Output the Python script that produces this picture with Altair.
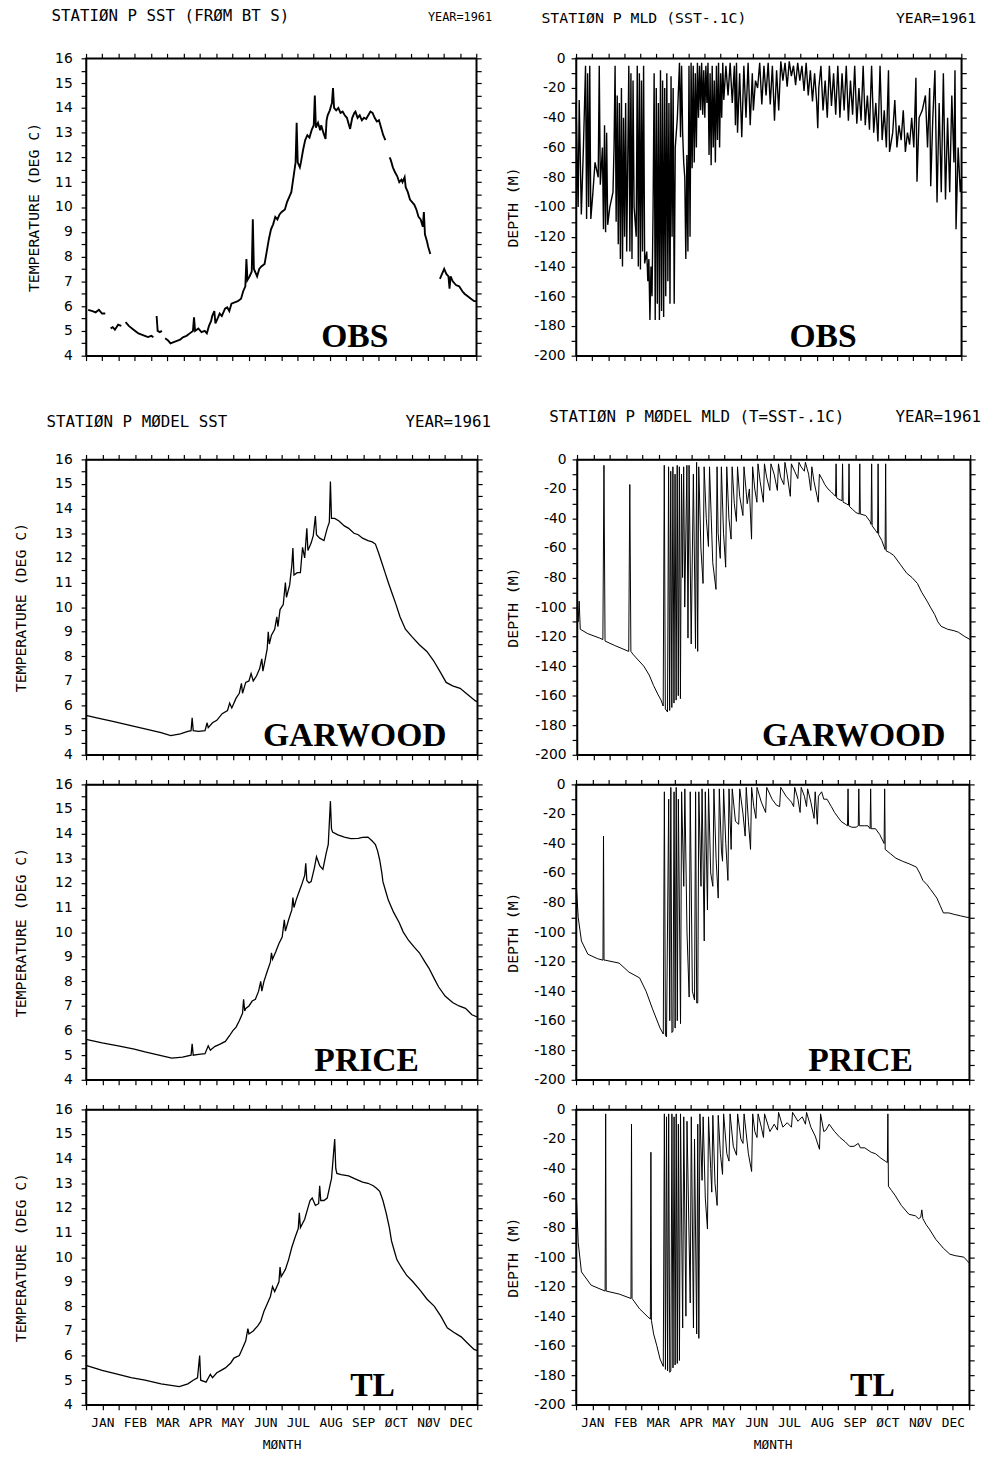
import altair as alt
import pandas as pd

# ---------------- text ----------------
MONTHS = ["JAN", "FEB", "MAR", "APR", "MAY", "JUN", "JUL", "AUG", "SEP", "ØCT", "NØV", "DEC"]
YEAR_TEXT = "YEAR=1961"
T_OBS_SST = "STATIØN P SST (FRØM BT S)"
T_OBS_MLD = "STATIØN P MLD (SST-.1C)"
T_MOD_SST = "STATIØN P MØDEL SST"
T_MOD_MLD = "STATIØN P MØDEL MLD (T=SST-.1C)"

# ---------------- data (day of year, value) ----------------
OBS_SST_DAY = [2, 6, 9, 12, 15, 18,
               23, 25, 27, 30, 33,
               37, 40, 43, 46, 49, 52, 55, 58, 61, 63,
               66, 67, 69, 71,
               74, 77, 79, 82, 85, 88, 91, 94, 97, 100, 101, 102, 105, 108, 111, 113, 115, 117, 118, 120,
               121, 123, 125, 127, 130, 132, 134, 136, 139, 142, 145, 147, 149, 150, 151, 153, 155, 156,
               157, 160, 162, 164, 167, 169, 171, 173, 175, 177, 179, 181, 183, 186, 188, 190, 192, 194,
               196, 197, 198, 200, 201, 203, 205, 207, 209, 211, 213, 214, 215, 217, 219, 220, 222, 224,
               225, 226, 228, 230, 231, 232, 234, 236, 238, 240, 242, 244, 246, 247, 249, 251, 252, 254,
               256, 258, 260, 262, 264, 266, 268, 270, 272, 274, 276, 278, 280,
               284, 285, 287, 289, 291, 293, 295, 296, 298, 299, 301, 303, 305, 307, 309, 311, 313, 315,
               316, 317, 319, 320, 322,
               331, 333, 335, 337, 339, 340, 341, 343, 346, 349, 352, 354, 357, 360, 363, 365]
OBS_SST_TEMP = [5.85, 5.8, 5.75, 5.85, 5.7, 5.7,
                5.1, 5.15, 5.05, 5.25, 5.2,
                5.35, 5.2, 5.1, 5.0, 4.9, 4.85, 4.8, 4.75, 4.8, 4.75,
                5.6, 5.0, 4.95, 5.0,
                4.7, 4.6, 4.5, 4.55, 4.6, 4.65, 4.75, 4.8, 4.9, 5.0, 5.55, 5.0, 5.1, 4.95, 5.0, 4.9, 5.2,
                5.4, 5.6, 5.8,
                5.3, 5.5, 5.7, 5.6, 5.9, 5.95, 5.8, 6.1, 6.15, 6.2, 6.3, 6.6, 6.8, 7.9, 7.05, 7.2, 7.4, 9.5,
                7.5, 7.2, 7.5, 7.6, 7.7, 8.2, 8.7, 9.1, 9.3, 9.6, 9.5, 9.7, 9.8, 9.9, 10.2, 10.4, 10.6, 11.2,
                11.8, 13.4, 11.8, 11.6, 11.8, 12.3, 12.7, 12.9, 12.8, 13.1, 13.3, 14.5, 13.2, 13.4, 13.1,
                13.3, 13.0, 12.75,
                13.5, 13.7, 13.9, 14.2, 14.8, 14.0, 13.9, 14.0, 13.8, 13.85, 13.7, 13.6, 13.3, 13.15, 13.6,
                13.8, 13.85, 13.6,
                13.7, 13.5, 13.6, 13.55, 13.7, 13.85, 13.8, 13.6, 13.45, 13.5, 13.2, 12.9, 12.7,
                12.0, 11.9, 11.6, 11.4, 11.25, 11.0, 11.1, 11.0, 11.2, 10.8, 10.6, 10.3, 10.2, 10.1, 9.9,
                9.6, 9.5, 9.2,
                9.8, 8.9, 8.6, 8.4, 8.1,
                7.1, 7.3, 7.5, 7.3, 7.2, 6.7, 7.2, 7.0, 6.85, 6.8, 6.6, 6.5, 6.4, 6.3, 6.2, 6.2]
# days at which the observed SST record has gaps
OBS_SST_GAPS = [20, 35, 65, 72, 282, 326]

OBS_MLD = [(0, -30), (2, -100), (3, -28), (5, -105), (7, -60), (9, -5), (10, -108), (11, -10), (12, -100),
           (13, -5), (14, -108), (16, -90), (18, -70), (21, -80), (22, -5), (23, -85), (25, -60), (26, -115),
           (27, -45), (28, -117), (29, -50), (30, -112), (32, -100), (35, -90), (36, -60), (37, -5), (38, -110),
           (39, -25), (40, -125), (41, -30), (42, -135), (43, -20), (44, -140), (45, -40), (46, -120), (47, -30),
           (48, -130), (50, -5), (51, -130), (52, -10), (53, -135), (54, -15), (55, -100), (57, -120), (58, -5),
           (59, -140), (60, -10), (61, -142), (62, -15), (63, -130), (64, -5), (65, -138), (67, -130), (68, -150),
           (69, -135), (70, -176), (71, -140), (72, -160), (73, -100), (74, -10), (75, -176), (76, -20),
           (77, -165), (78, -30), (79, -176), (80, -8), (81, -170), (82, -15), (83, -174), (84, -20), (85, -160),
           (86, -10), (87, -150), (88, -30), (89, -165), (90, -12), (91, -120), (92, -20), (93, -165), (94, -60),
           (96, -40), (98, -3), (99, -53), (100, -5), (101, -50), (102, -70), (103, -80), (104, -135), (105, -65),
           (106, -130), (107, -5), (108, -120), (109, -3), (110, -74), (111, -5), (112, -70), (113, -10),
           (114, -60), (115, -3), (116, -40), (117, -5), (118, -35), (119, -3), (120, -38), (121, -8), (122, -40),
           (123, -5), (124, -30), (125, -3), (126, -65), (127, -10), (128, -72), (129, -5), (130, -60),
           (131, -15), (132, -70), (133, -5), (134, -55), (135, -3), (136, -60), (137, -10), (138, -40),
           (139, -3), (140, -28), (142, -5), (144, -25), (146, -3), (148, -30), (150, -5), (151, -45), (152, -3),
           (153, -50), (155, -10), (157, -53), (159, -5), (161, -40), (163, -3), (165, -45), (167, -10),
           (168, -35), (170, -15), (172, -20), (174, -3), (176, -31), (178, -5), (180, -25), (182, -3),
           (184, -31), (186, -5), (188, -42), (190, -8), (192, -35), (194, -2), (196, -15), (198, -3), (200, -19),
           (202, -2), (204, -12), (206, -5), (208, -18), (210, -3), (212, -15), (214, -5), (216, -22), (218, -3),
           (220, -25), (222, -8), (224, -29), (226, -10), (228, -30), (229, -47), (230, -20), (232, -5),
           (234, -35), (236, -15), (238, -40), (240, -5), (242, -32), (244, -10), (246, -38), (248, -5),
           (250, -40), (252, -10), (254, -35), (256, -5), (258, -42), (260, -15), (262, -38), (264, -5),
           (266, -44), (268, -20), (270, -42), (272, -5), (274, -45), (276, -25), (278, -48), (280, -5),
           (282, -50), (284, -30), (286, -56), (288, -5), (290, -55), (292, -35), (294, -60), (296, -8),
           (297, -63), (300, -50), (302, -28), (304, -60), (306, -45), (308, -55), (310, -35), (312, -63),
           (314, -50), (316, -58), (318, -40), (320, -60), (322, -13), (323, -83), (325, -40), (328, -35),
           (331, -25), (333, -60), (335, -20), (336, -86), (338, -40), (340, -8), (342, -97), (344, -30),
           (346, -90), (348, -10), (350, -95), (352, -40), (354, -90), (356, -25), (358, -70), (359, -8),
           (360, -115), (362, -60), (364, -90), (365, -81)]

GAR_SST = [(0, 5.6), (10, 5.5), (25, 5.36), (40, 5.2), (57, 5.03), (70, 4.9), (79, 4.78), (88, 4.85), (95, 4.95),
           (98, 4.98), (99, 5.5), (100, 4.98), (105, 4.95), (111, 4.98), (113, 5.3), (114, 5.1), (118, 5.3),
           (122, 5.4), (127, 5.67), (132, 5.8), (134, 6.1), (136, 5.9), (140, 6.3), (143, 6.5), (145, 6.9),
           (146, 6.5), (149, 6.94), (152, 7.0), (154, 7.3), (156, 7.0), (159, 7.2), (162, 7.5), (164, 7.9),
           (165, 7.4), (167, 7.84), (169, 8.3), (170, 9.0), (171, 8.5), (173, 8.86), (176, 9.1), (178, 9.6),
           (179, 9.2), (181, 9.9), (184, 10.1), (186, 11.0), (187, 10.4), (190, 10.9), (192, 11.7), (193, 12.4),
           (194, 11.3), (197, 11.4), (200, 11.4), (202, 12.43), (204, 12.0), (206, 13.2), (207, 12.3),
           (210, 12.6), (212, 12.9), (214, 13.7), (215, 12.94), (218, 12.8), (222, 12.7), (225, 13.2),
           (227, 13.45), (228, 15.1), (229, 13.6), (232, 13.6), (236, 13.5), (241, 13.3), (245, 13.2),
           (250, 13.0), (254, 12.94), (258, 12.8), (263, 12.7), (267, 12.65), (270, 12.56), (273, 12.2),
           (276, 11.8), (279, 11.4), (282, 11.0), (286, 10.5), (289, 10.13), (293, 9.6), (298, 9.1), (304, 8.8),
           (311, 8.47), (318, 8.2), (324, 7.84), (330, 7.4), (336, 6.94), (342, 6.8), (349, 6.7), (356, 6.45),
           (363, 6.2), (365, 6.15)]

PRI_SST = [(0, 5.64), (15, 5.5), (30, 5.38), (45, 5.25), (55, 5.13), (68, 5.0), (80, 4.88), (90, 4.92), (98, 5.0),
           (99, 5.46), (100, 5.0), (105, 5.03), (111, 5.06), (114, 5.38), (116, 5.2), (120, 5.35), (125, 5.45),
           (130, 5.56), (134, 5.8), (137, 6.0), (140, 6.14), (143, 6.4), (146, 6.7), (147, 7.27), (148, 6.8),
           (149, 6.9), (152, 7.0), (155, 7.2), (158, 7.27), (161, 7.6), (163, 8.0), (164, 7.6), (166, 8.0),
           (169, 8.4), (172, 8.78), (173, 9.16), (174, 8.9), (177, 9.2), (180, 9.54), (183, 9.8), (185, 10.5),
           (186, 10.04), (189, 10.5), (192, 10.9), (193, 11.4), (194, 11.0), (196, 11.3), (198, 11.55),
           (201, 11.9), (204, 12.3), (205, 12.8), (206, 12.1), (208, 12.0), (210, 12.05), (213, 12.6),
           (215, 13.06), (218, 12.7), (221, 12.55), (224, 13.2), (226, 13.56), (228, 15.32), (229, 14.2),
           (230, 14.06), (235, 13.95), (241, 13.86), (247, 13.8), (254, 13.81), (258, 13.85), (263, 13.86),
           (267, 13.7), (270, 13.56), (272, 13.3), (274, 12.93), (276, 12.4), (277, 12.05), (280, 11.6),
           (282, 11.3), (287, 10.8), (292, 10.4), (296, 10.0), (301, 9.66), (306, 9.4), (311, 9.16), (316, 8.8),
           (320, 8.53), (325, 8.1), (329, 7.77), (335, 7.4), (342, 7.14), (348, 7.0), (354, 6.9), (360, 6.64),
           (365, 6.55)]

TL_SST = [(0, 5.6), (15, 5.4), (30, 5.24), (42, 5.1), (55, 5.0), (70, 4.85), (87, 4.74), (95, 4.85), (100, 5.0),
          (104, 5.1), (106, 6.0), (107, 5.0), (112, 4.92), (116, 5.24), (118, 5.1), (122, 5.3), (126, 5.4),
          (130, 5.5), (135, 5.7), (138, 5.9), (143, 6.0), (146, 6.3), (149, 6.6), (151, 7.1), (152, 6.88),
          (156, 7.0), (160, 7.2), (163, 7.39), (166, 7.8), (169, 8.1), (172, 8.4), (174, 8.8), (176, 8.6),
          (178, 8.8), (180, 9.0), (181, 9.6), (182, 9.2), (186, 9.5), (189, 9.9), (192, 10.4), (195, 10.8),
          (198, 11.16), (199, 11.8), (200, 11.2), (204, 11.54), (207, 12.0), (209, 12.3), (211, 12.4),
          (214, 12.1), (217, 12.17), (218, 12.9), (219, 12.3), (222, 12.3), (225, 12.4), (228, 13.0),
          (229, 13.18), (232, 14.8), (233, 13.6), (234, 13.4), (238, 13.35), (245, 13.3), (250, 13.2),
          (258, 13.05), (263, 13.0), (268, 12.9), (271, 12.8), (274, 12.67), (277, 12.3), (280, 11.8),
          (283, 11.2), (285, 10.66), (288, 10.2), (290, 9.9), (294, 9.6), (299, 9.27), (305, 9.0), (312, 8.64),
          (318, 8.3), (325, 8.0), (331, 7.6), (337, 7.13), (343, 6.95), (350, 6.76), (356, 6.5), (362, 6.25),
          (365, 6.2)]

GAR_MLD = [(0, -100), (1, -110), (2, -96), (3, -115), (10, -118), (21, -121), (24, -122), (25, -4), (26, -123),
           (35, -126), (48, -130), (49, -17), (50, -130), (52, -132), (62, -140), (67, -146), (71, -153),
           (75, -159), (78, -163), (80, -167), (81, -4), (82, -169), (84, -171), (85, -5), (86, -170), (87, -8),
           (88, -168), (89, -5), (90, -165), (91, -10), (92, -163), (93, -4), (94, -160), (95, -5), (96, -162),
           (97, -10), (98, -80), (99, -5), (100, -100), (102, -4), (103, -121), (104, -4), (106, -125),
           (108, -10), (110, -128), (111, -2), (112, -130), (113, -5), (115, -60), (117, -84), (118, -5),
           (120, -40), (122, -59), (123, -5), (126, -70), (129, -88), (130, -5), (131, -50), (133, -67),
           (134, -5), (136, -50), (138, -73), (139, -5), (141, -40), (143, -54), (144, -5), (146, -30),
           (148, -42), (149, -5), (151, -25), (154, -38), (155, -5), (158, -30), (160, -20), (162, -54),
           (163, -5), (165, -20), (167, -29), (168, -3), (170, -15), (173, -29), (174, -3), (176, -12),
           (179, -21), (180, -3), (183, -10), (186, -21), (187, -3), (189, -12), (192, -17), (193, -2),
           (195, -10), (198, -25), (199, -3), (202, -8), (205, -13), (206, -2), (208, -5), (211, -8), (212, -2),
           (215, -10), (217, -21), (218, -5), (220, -15), (224, -29), (225, -10), (228, -14), (230, -17),
           (233, -20), (236, -22), (240, -25), (240.5, -3), (241, -26), (243, -27), (246, -28), (246.5, -3),
           (247, -29), (250, -30), (252, -31), (252.5, -3), (253, -32), (256, -34), (259, -36), (262, -37),
           (262.5, -3), (263, -37), (268, -38), (272, -42), (273, -44), (273.5, -3), (274, -45), (277, -48),
           (279, -50), (279.5, -3), (280, -51), (283, -55), (286, -61), (286.5, -3), (287, -62), (290, -63),
           (294, -65), (300, -71), (306, -77), (311, -80), (316, -84), (320, -90), (325, -96), (328, -100),
           (332, -105), (335, -110), (338, -113), (344, -115), (350, -116), (354, -117), (360, -120),
           (365, -122)]

PRI_MLD = [(0, -65), (2, -90), (5, -106), (11, -115), (20, -118), (25, -119), (25.5, -35), (26, -119), (27, -119),
           (40, -121), (49, -127), (59, -131), (65, -140), (71, -152), (78, -165), (81, -169), (82, -5),
           (83, -170), (84, -171), (86, -10), (87, -160), (88, -2), (89, -168), (90, -167), (91, -5), (92, -165),
           (93, -2), (94, -160), (95, -10), (97, -162), (98, -5), (100, -69), (101, -3), (103, -100), (105, -144),
           (106, -5), (108, -140), (110, -146), (111, -5), (112, -148), (113, -148), (114, -5), (116, -69),
           (117, -3), (119, -106), (120, -5), (122, -85), (123, -3), (125, -60), (127, -69), (128, -3),
           (130, -50), (132, -77), (133, -3), (135, -45), (136, -52), (137, -3), (139, -40), (141, -65),
           (142, -3), (144, -44), (145, -3), (148, -25), (151, -27), (152, -3), (155, -20), (157, -35),
           (158, -2), (160, -25), (162, -44), (163, -2), (165, -15), (167, -23), (168, -2), (172, -12),
           (176, -19), (177, -2), (182, -10), (186, -14), (189, -15), (190, -2), (195, -8), (200, -12),
           (202, -15), (203, -2), (206, -10), (208, -19), (209, -2), (212, -8), (214, -15), (215, -3), (218, -12),
           (221, -23), (222, -5), (224, -27), (225, -8), (228, -5), (230, -10), (233, -10), (237, -15),
           (240, -19), (243, -22), (246, -25), (250, -27), (252, -28), (252.5, -3), (253, -28), (256, -29),
           (260, -29), (262, -28), (262.5, -3), (263, -28), (268, -28), (271, -28), (273, -30), (273.5, -3),
           (274, -30), (278, -30), (282, -34), (284, -37), (286, -40), (286.5, -3), (287, -44), (292, -47),
           (297, -50), (303, -52), (310, -54), (316, -56), (319, -60), (322, -65), (326, -68), (329, -71),
           (335, -77), (338, -82), (341, -87), (346, -87), (351, -88), (357, -89), (363, -90), (365, -90)]

TL_MLD = [(0, -52), (2, -90), (5, -110), (14, -119), (27, -123), (27.5, -3), (28, -123), (40, -125), (51, -128),
          (51.5, -10), (52, -128), (53, -129), (59, -135), (66, -140), (69, -142), (69.5, -29), (70, -143),
          (72, -152), (75, -160), (78, -169), (81, -174), (82, -3), (83, -176), (84, -5), (85, -177), (86, -3),
          (87, -178), (88, -177), (89, -3), (90, -175), (91, -5), (92, -173), (93, -3), (94, -172), (95, -10),
          (96, -170), (97, -3), (99, -148), (100, -5), (102, -140), (103, -8), (106, -131), (107, -5),
          (109, -148), (110, -20), (112, -152), (113, -10), (114, -155), (115, -3), (117, -48), (118, -5),
          (120, -60), (122, -81), (123, -5), (125, -40), (126, -56), (127, -4), (129, -50), (131, -65),
          (132, -4), (134, -30), (136, -44), (137, -3), (140, -30), (142, -35), (143, -3), (146, -25),
          (149, -31), (150, -3), (153, -20), (155, -23), (156, -3), (160, -30), (163, -42), (164, -3),
          (166, -15), (168, -19), (169, -3), (172, -12), (174, -19), (175, -3), (180, -15), (184, -10),
          (187, -14), (188, -2), (192, -12), (196, -9), (200, -12), (201, -2), (206, -8), (210, -5), (213, -10),
          (214, -2), (218, -12), (222, -18), (226, -27), (227, -3), (230, -15), (232, -14), (235, -10),
          (240, -15), (245, -19), (250, -22), (254, -25), (258, -25), (262, -23), (264, -26), (268, -26),
          (272, -28), (274, -29), (278, -30), (283, -33), (287, -35), (289, -36), (289.5, -3), (290, -52),
          (293, -55), (296, -58), (302, -65), (309, -71), (315, -72), (318, -74), (320, -73), (321, -68),
          (322, -74), (325, -78), (328, -81), (334, -88), (341, -94), (347, -98), (352, -99), (360, -100),
          (365, -104)]

# ---------------- styling ----------------
PLOT_FONT = "DejaVu Sans Mono"
NUM_FONT = "DejaVu Sans"
BIG_FONT = "Liberation Serif"

X_TICKS = [k * 365 / 24 for k in range(25)]
X_LABEL_EXPR = ("(round(datum.value * 24 / 365) % 2 == 1) ? "
                + str(MONTHS) + "[floor(datum.value * 12 / 365)] : ''")


def frame_from_pairs(pairs):
    df = pd.DataFrame(pairs, columns=["day", "v"])
    df["i"] = range(len(df))
    df["seg"] = 0
    return df


def obs_sst_frame():
    df = pd.DataFrame({"day": OBS_SST_DAY, "v": OBS_SST_TEMP})
    df["i"] = range(len(df))
    df["seg"] = [sum(1 for g in OBS_SST_GAPS if g < d) for d in OBS_SST_DAY]
    return df


def text_layer(txt, x, y, align, font, size, weight="normal", opacity=1.0):
    return alt.Chart(pd.DataFrame({"t": [txt]})).mark_text(
        font=font, fontSize=size, fontWeight=weight, align=align,
        baseline="alphabetic", color="black", opacity=opacity
    ).encode(x=alt.value(x), y=alt.value(y), text="t:N")


def panel(df, kind, label, label_x, width, height, sw=1.2, show_x=False,
          titles=None, ytitle_pad=13, ylabel_pad=9, spacer=None):
    xscale = alt.Scale(domain=[0, 365], nice=False, zero=False)
    if kind == "sst":
        yscale = alt.Scale(domain=[4, 16], nice=False, zero=False)
        yvals = [4 + 0.5 * k for k in range(25)]
        yexpr = "datum.value % 1 == 0 ? '' + datum.value : ''"
        ytitle = "TEMPERATURE   (DEG C)"
    else:
        yscale = alt.Scale(domain=[-200, 0], nice=False, zero=False)
        yvals = list(range(-200, 1, 10))
        yexpr = ("datum.value % 20 == 0 ? (datum.value < 0 ? '-' + abs(datum.value) : '' + datum.value) : ''")
        ytitle = "DEPTH   (M)"
    common = dict(grid=False, tickSize=5, tickWidth=1.2, tickColor="black",
                  domainColor="black", domainWidth=1.5, labelOverlap=False)
    if show_x:
        xb = alt.Axis(values=X_TICKS, labelExpr=X_LABEL_EXPR, title="MØNTH", orient="bottom",
                      labelFont=PLOT_FONT, labelFontSize=13, labelPadding=7, labelFlush=False,
                      titleFont=PLOT_FONT, titleFontSize=13, titleFontWeight="normal",
                      titlePadding=9, **common)
    else:
        xb = alt.Axis(values=X_TICKS, labels=False, title=None, orient="bottom", **common)
    xt = alt.Axis(values=X_TICKS, labels=False, title=None, orient="top", **common)
    yl = alt.Axis(values=yvals, labelExpr=yexpr, title=ytitle, orient="left",
                  labelFont=NUM_FONT, labelFontSize=14, labelPadding=ylabel_pad,
                  titleFont=PLOT_FONT, titleFontSize=15, titleFontWeight="normal",
                  titlePadding=ytitle_pad, **common)
    yr = alt.Axis(values=yvals, labels=False, title=None, orient="right", **common)

    line = alt.Chart(df).mark_line(color="black", strokeWidth=sw).encode(
        x=alt.X("day:Q", scale=xscale, axis=xb),
        y=alt.Y("v:Q", scale=yscale, axis=yl),
        detail="seg:N",
        order="i:Q",
    )
    mirror = alt.Chart(df).mark_line(strokeOpacity=0).encode(
        x=alt.X("day:Q", scale=xscale, axis=xt),
        y=alt.Y("v:Q", scale=yscale, axis=yr),
    )
    layers = [line, mirror,
              text_layer(label, label_x, height - 9, "center", BIG_FONT, 34, "bold")]
    if titles is not None:
        for (txt, tx, ty, al, fs) in titles:
            layers.append(text_layer(txt, tx, ty, al, PLOT_FONT, fs))
    if spacer is not None:
        # invisible text that reserves the blank band above the model row
        layers.append(text_layer(".", 0, spacer, "left", PLOT_FONT, 10, opacity=0))
    return alt.layer(*layers).properties(width=width, height=height).resolve_axis(
        x="independent", y="independent")


W_SST, W_MLD, H_MOD = 396, 398, 299

obs_sst = panel(obs_sst_frame(), "sst", "OBS", 272, 395, 301, sw=1.9,
                titles=[(T_OBS_SST, -35, -38, "left", 16), (YEAR_TEXT, 411, -38, "right", 12)],
                ytitle_pad=13, ylabel_pad=9)
obs_mld = panel(frame_from_pairs(OBS_MLD), "mld", "OBS", 250, 390, 301, sw=1.4,
                titles=[(T_OBS_MLD, -35, -36, "left", 15), (YEAR_TEXT, 405, -36, "right", 15)],
                ytitle_pad=13, ylabel_pad=6)

g_sst = panel(frame_from_pairs(GAR_SST), "sst", "GARWOOD", 272, W_SST, H_MOD, sw=1.3,
              titles=[(T_MOD_SST, -40, -33, "left", 16), (YEAR_TEXT, 410, -33, "right", 16)],
              ytitle_pad=26, ylabel_pad=9, spacer=-74)
p_sst = panel(frame_from_pairs(PRI_SST), "sst", "PRICE", 284, W_SST, H_MOD, sw=1.3,
              ytitle_pad=26, ylabel_pad=9)
t_sst = panel(frame_from_pairs(TL_SST), "sst", "TL", 290, W_SST, H_MOD, sw=1.3, show_x=True,
              ytitle_pad=26, ylabel_pad=9)

g_mld = panel(frame_from_pairs(GAR_MLD), "mld", "GARWOOD", 280, W_MLD, H_MOD, sw=1.0,
              titles=[(T_MOD_MLD, -28, -38, "left", 16), (YEAR_TEXT, 409, -38, "right", 16)],
              ytitle_pad=14, ylabel_pad=6, spacer=-74)
p_mld = panel(frame_from_pairs(PRI_MLD), "mld", "PRICE", 288, W_MLD, H_MOD, sw=1.0,
              ytitle_pad=13, ylabel_pad=6)
t_mld = panel(frame_from_pairs(TL_MLD), "mld", "TL", 300, W_MLD, H_MOD, sw=1.0, show_x=True,
              ytitle_pad=13, ylabel_pad=6)

chart = alt.concat(obs_sst, obs_mld, g_sst, g_mld, p_sst, p_mld, t_sst, t_mld,
                   columns=2, align="none", spacing={"row": 14, "column": 12}).configure_view(
    stroke="black", strokeWidth=1.5
).properties(background="white", padding={"top": -10, "left": 5, "right": 5, "bottom": 5})

chart.save("out.html", embed_options={"renderer": "svg", "actions": False})
